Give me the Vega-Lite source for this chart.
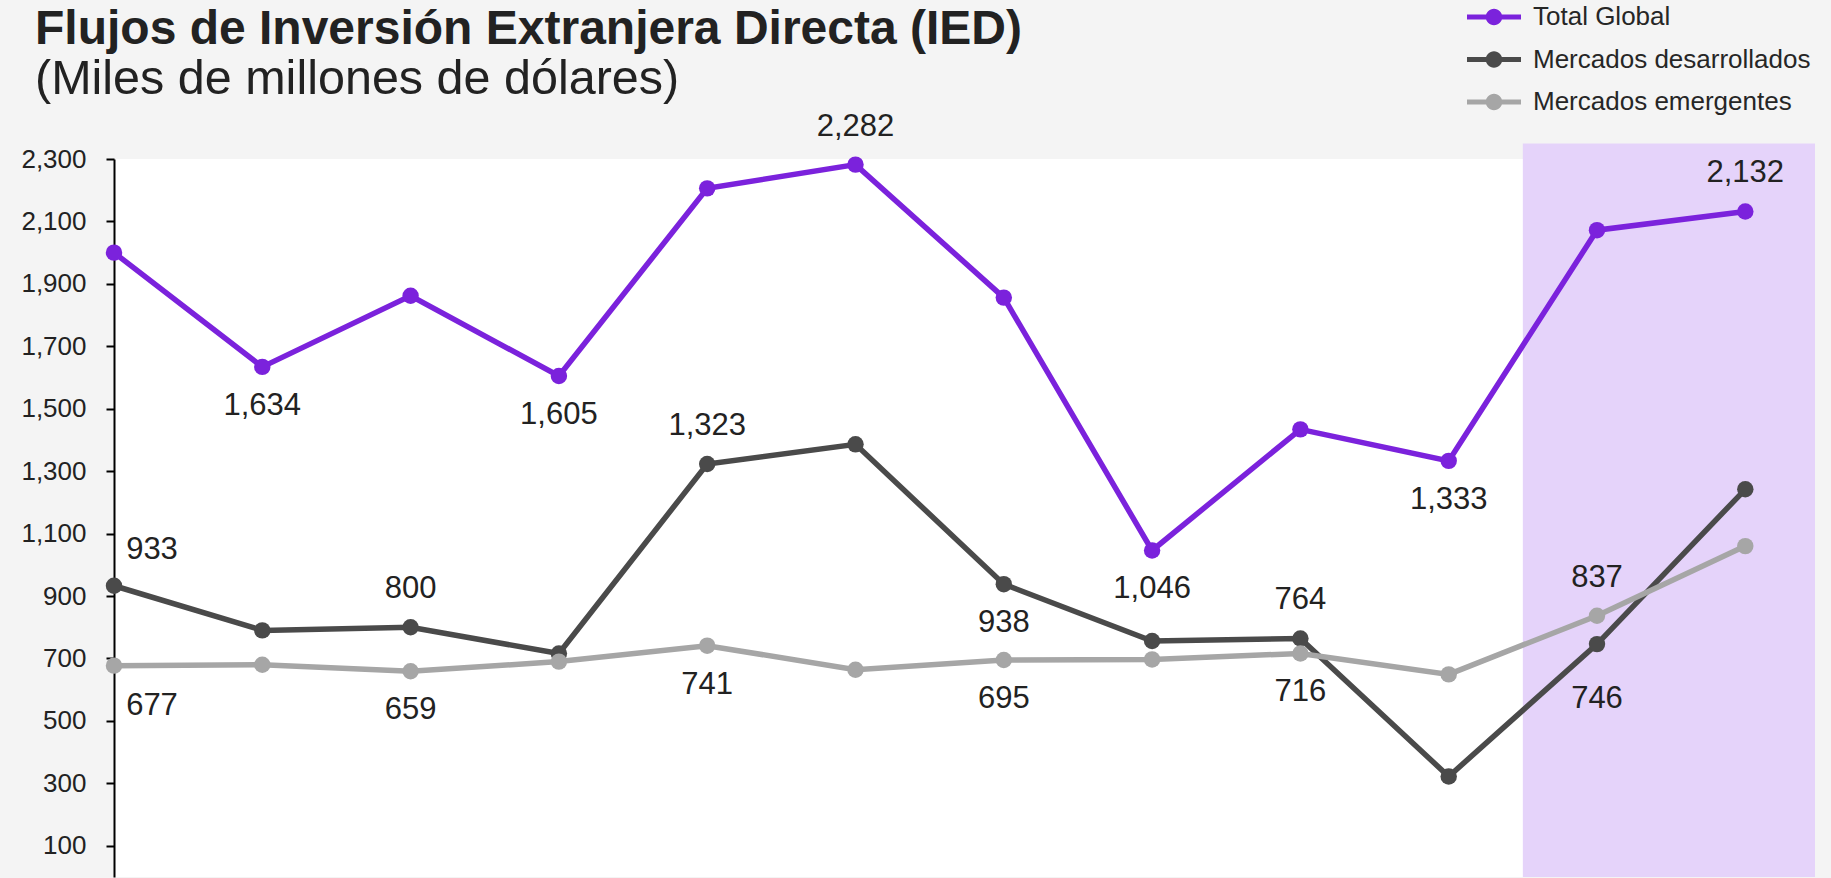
{
  "$schema": "https://vega.github.io/schema/vega-lite/v6.json",
  "autosize": {"type": "none"},
  "padding": {"left": 114, "top": 159, "right": 16, "bottom": 1},
  "width": 1701,
  "height": 718,
  "background": "#f4f4f4",
  "config": {
    "view": {"fill": "white", "stroke": null},
    "font": "Liberation Sans"
  },
  "title": {
    "text": "Flujos de Inversión Extranjera Directa (IED)",
    "subtitle": "(Miles de millones de dólares)",
    "anchor": "start",
    "frame": "group",
    "font": "Liberation Sans",
    "fontSize": 48,
    "fontWeight": "bold",
    "color": "#222222",
    "subtitleFont": "Liberation Sans",
    "subtitleFontSize": 48.5,
    "subtitleColor": "#222222",
    "subtitlePadding": 2,
    "dx": -79,
    "dy": 111,
    "offset": 10
  },
  "datasets": {
    "ied": [
      {"t": 0, "serie": "Total Global", "valor": 2000},
      {"t": 1, "serie": "Total Global", "valor": 1634},
      {"t": 2, "serie": "Total Global", "valor": 1862},
      {"t": 3, "serie": "Total Global", "valor": 1605},
      {"t": 4, "serie": "Total Global", "valor": 2206},
      {"t": 5, "serie": "Total Global", "valor": 2282},
      {"t": 6, "serie": "Total Global", "valor": 1856},
      {"t": 7, "serie": "Total Global", "valor": 1046},
      {"t": 8, "serie": "Total Global", "valor": 1434},
      {"t": 9, "serie": "Total Global", "valor": 1333},
      {"t": 10, "serie": "Total Global", "valor": 2072},
      {"t": 11, "serie": "Total Global", "valor": 2132},
      {"t": 0, "serie": "Mercados desarrollados", "valor": 933},
      {"t": 1, "serie": "Mercados desarrollados", "valor": 790},
      {"t": 2, "serie": "Mercados desarrollados", "valor": 800},
      {"t": 3, "serie": "Mercados desarrollados", "valor": 716},
      {"t": 4, "serie": "Mercados desarrollados", "valor": 1323},
      {"t": 5, "serie": "Mercados desarrollados", "valor": 1386},
      {"t": 6, "serie": "Mercados desarrollados", "valor": 938},
      {"t": 7, "serie": "Mercados desarrollados", "valor": 756},
      {"t": 8, "serie": "Mercados desarrollados", "valor": 764},
      {"t": 9, "serie": "Mercados desarrollados", "valor": 322},
      {"t": 10, "serie": "Mercados desarrollados", "valor": 746},
      {"t": 11, "serie": "Mercados desarrollados", "valor": 1242},
      {"t": 0, "serie": "Mercados emergentes", "valor": 677},
      {"t": 1, "serie": "Mercados emergentes", "valor": 680},
      {"t": 2, "serie": "Mercados emergentes", "valor": 659},
      {"t": 3, "serie": "Mercados emergentes", "valor": 690},
      {"t": 4, "serie": "Mercados emergentes", "valor": 741},
      {"t": 5, "serie": "Mercados emergentes", "valor": 664},
      {"t": 6, "serie": "Mercados emergentes", "valor": 695},
      {"t": 7, "serie": "Mercados emergentes", "valor": 697},
      {"t": 8, "serie": "Mercados emergentes", "valor": 716},
      {"t": 9, "serie": "Mercados emergentes", "valor": 649},
      {"t": 10, "serie": "Mercados emergentes", "valor": 837},
      {"t": 11, "serie": "Mercados emergentes", "valor": 1060}
    ],
    "sombra": [
      {"inicio": 9.5, "fin": 11.47, "base": 0, "tope": 2350}
    ]
  },
  "layer": [
    {
      "data": {"name": "sombra"},
      "mark": {"type": "rect", "color": "#e5d3fa"},
      "encoding": {
        "x": {"field": "inicio", "type": "quantitative", "scale": {"domain": [0, 11.47], "nice": false, "zero": false}, "axis": null},
        "x2": {"field": "fin"},
        "y": {"field": "base", "type": "quantitative", "scale": {"domain": [0, 2300], "nice": false}},
        "y2": {"field": "tope"}
      }
    },
    {
      "data": {"name": "ied"},
      "layer": [
        {
          "mark": {"type": "line", "strokeWidth": 5.5},
          "encoding": {
            "x": {"field": "t", "type": "quantitative", "axis": null},
            "y": {
              "field": "valor", "type": "quantitative",
              "axis": {
                "title": null,
                "values": [100, 200, 300, 400, 500, 600, 700, 800, 900, 1000, 1100, 1200, 1300, 1400, 1500, 1600, 1700, 1800, 1900, 2000, 2100, 2200, 2300],
                "labelExpr": "datum.value % 200 == 100 ? format(datum.value, ',') : ''",
                "grid": false,
                "domainColor": "#000000",
                "domainWidth": 2,
                "tickColor": "#000000",
                "tickWidth": 2,
                "tickSize": 8,
                "labelFont": "Liberation Sans",
                "labelFontSize": 26,
                "labelColor": "#222222",
                "labelPadding": 20
              }
            },
            "color": {
              "field": "serie", "type": "nominal",
              "scale": {"domain": ["Total Global", "Mercados desarrollados", "Mercados emergentes"], "range": ["#7b22dc", "#4a4a4a", "#a6a6a6"]},
              "legend": {
                "title": null,
                "orient": "none",
                "legendX": 1365,
                "legendY": -157,
                "padding": 0,
                "symbolType": "M-1.8,-0.17L1.8,-0.17L1.8,0.17L-1.8,0.17Z M-0.55,0A0.55,0.55,0,1,1,0.55,0A0.55,0.55,0,1,1,-0.55,0Z",
                "symbolSize": 900,
                "symbolStrokeWidth": 0,
                "symbolOpacity": 1,
                "labelFont": "Liberation Sans",
                "labelFontSize": 26,
                "labelColor": "#262626",
                "labelOffset": 24,
                "labelLimit": 500,
                "rowPadding": 14.5
              }
            }
          }
        },
        {
          "mark": {"type": "point", "filled": true, "size": 270, "opacity": 1},
          "encoding": {
            "x": {"field": "t", "type": "quantitative"},
            "y": {"field": "valor", "type": "quantitative"},
            "color": {"field": "serie", "type": "nominal"}
          }
        },
        {
          "transform": [{"filter": "(datum.serie == 'Total Global' && (datum.t == 5 || datum.t == 11)) || (datum.serie == 'Mercados desarrollados' && (datum.t == 2 || datum.t == 4 || datum.t == 8)) || (datum.serie == 'Mercados emergentes' && datum.t == 10)"}],
          "mark": {"type": "text", "fontSize": 31, "font": "Liberation Sans", "color": "#222222", "dy": -38},
          "encoding": {
            "x": {"field": "t", "type": "quantitative"},
            "y": {"field": "valor", "type": "quantitative"},
            "text": {"field": "valor", "type": "quantitative", "format": ",.0f"}
          }
        },
        {
          "transform": [{"filter": "(datum.serie == 'Total Global' && (datum.t == 1 || datum.t == 3 || datum.t == 7 || datum.t == 9)) || (datum.serie == 'Mercados desarrollados' && datum.t == 6) || (datum.serie == 'Mercados emergentes' && (datum.t == 2 || datum.t == 4 || datum.t == 6 || datum.t == 8))"}],
          "mark": {"type": "text", "fontSize": 31, "font": "Liberation Sans", "color": "#222222", "dy": 39},
          "encoding": {
            "x": {"field": "t", "type": "quantitative"},
            "y": {"field": "valor", "type": "quantitative"},
            "text": {"field": "valor", "type": "quantitative", "format": ",.0f"}
          }
        },
        {
          "transform": [{"filter": "datum.serie == 'Mercados desarrollados' && datum.t == 10"}],
          "mark": {"type": "text", "fontSize": 31, "font": "Liberation Sans", "color": "#222222", "dy": 55},
          "encoding": {
            "x": {"field": "t", "type": "quantitative"},
            "y": {"field": "valor", "type": "quantitative"},
            "text": {"field": "valor", "type": "quantitative", "format": ",.0f"}
          }
        },
        {
          "transform": [{"filter": "datum.serie == 'Mercados desarrollados' && datum.t == 0"}],
          "mark": {"type": "text", "fontSize": 31, "font": "Liberation Sans", "color": "#222222", "dy": -36, "dx": 38},
          "encoding": {
            "x": {"field": "t", "type": "quantitative"},
            "y": {"field": "valor", "type": "quantitative"},
            "text": {"field": "valor", "type": "quantitative", "format": ",.0f"}
          }
        },
        {
          "transform": [{"filter": "datum.serie == 'Mercados emergentes' && datum.t == 0"}],
          "mark": {"type": "text", "fontSize": 31, "font": "Liberation Sans", "color": "#222222", "dy": 40, "dx": 38},
          "encoding": {
            "x": {"field": "t", "type": "quantitative"},
            "y": {"field": "valor", "type": "quantitative"},
            "text": {"field": "valor", "type": "quantitative", "format": ",.0f"}
          }
        }
      ]
    }
  ]
}
